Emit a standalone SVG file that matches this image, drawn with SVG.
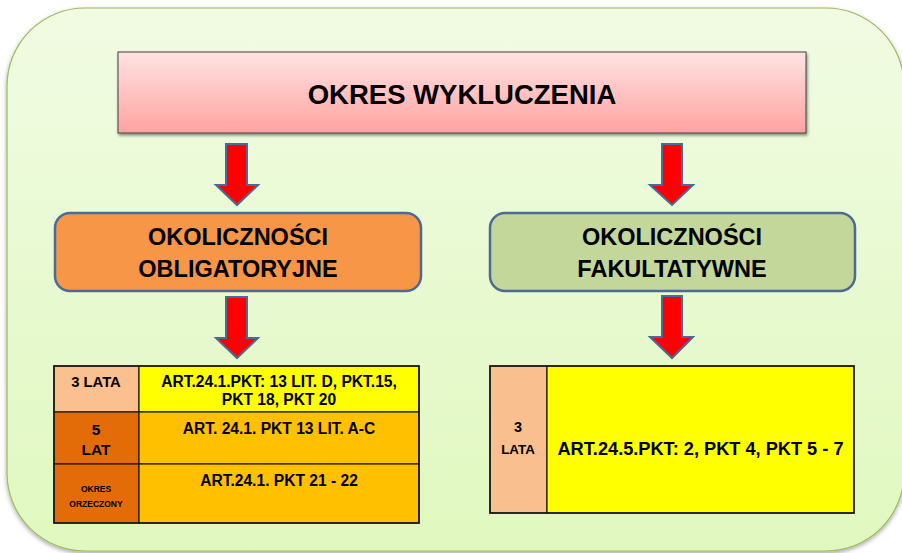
<svg xmlns="http://www.w3.org/2000/svg" width="902" height="553" viewBox="0 0 902 553">
<defs>
<linearGradient id="bg" x1="0" y1="0" x2="0" y2="1">
<stop offset="0" stop-color="#f1fbe3"/>
<stop offset="1" stop-color="#e0f8bf"/>
</linearGradient>
<linearGradient id="pink" x1="0" y1="0" x2="0" y2="1">
<stop offset="0" stop-color="#ffe3e3"/>
<stop offset="1" stop-color="#ffa3a1"/>
</linearGradient>
<filter id="sh" x="-5%" y="-10%" width="110%" height="130%">
<feDropShadow dx="1" dy="2" stdDeviation="1.5" flood-color="#000" flood-opacity="0.45"/>
</filter>
<filter id="bgsh" x="-5%" y="-5%" width="110%" height="110%">
<feDropShadow dx="0" dy="2" stdDeviation="2" flood-color="#000" flood-opacity="0.35"/>
</filter>
</defs>
<style>
text{font-family:"Liberation Sans",Arial,sans-serif;font-weight:bold;fill:#000;text-anchor:middle}
.arrow{fill:#ff0000;stroke:#4a6b96;stroke-width:2;stroke-linejoin:miter}
.node{stroke:#4a6b96;stroke-width:2.5}
.cell{stroke:#1a1a1a;stroke-width:1.2}
</style>
<rect x="7" y="8" width="897" height="543" rx="78" ry="78" fill="url(#bg)" stroke="#9bbb59" stroke-width="1.2" filter="url(#bgsh)"/>

<g id="top">
<rect x="118" y="52" width="688" height="81" fill="url(#pink)" stroke="#404040" stroke-width="1" filter="url(#sh)"/>
<text x="462" y="104" font-size="27.5">OKRES WYKLUCZENIA</text>
</g>

<g id="connectors">
<polygon class="arrow" points="226,144 247,144 247,185 258,185 237,205 216,185 226,185"/>
<polygon class="arrow" points="226,297 247,297 247,338 258,338 237,358 216,338 226,338"/>
<polygon class="arrow" points="662,144 682,144 682,185 693,185 672,205 650,185 662,185"/>
<polygon class="arrow" points="662,296 682,296 682,337 693,337 672,358 650,337 662,337"/>
</g>

<g id="obligatoryjne">
<rect class="node" x="55" y="213" width="366" height="78" rx="15" fill="#f79646"/>
<text x="238" y="245" font-size="23.5">OKOLICZNOŚCI</text>
<text x="238" y="277" font-size="23.5">OBLIGATORYJNE</text>
</g>

<g id="fakultatywne">
<rect class="node" x="490" y="213" width="365" height="78" rx="15" fill="#c4d79b"/>
<text x="672" y="245" font-size="23.5">OKOLICZNOŚCI</text>
<text x="672" y="277" font-size="23.5">FAKULTATYWNE</text>
</g>

<g id="table-left">
<rect class="cell" x="54" y="366" width="85" height="46" fill="#fac090"/>
<rect class="cell" x="139" y="366" width="280" height="46" fill="#ffff00"/>
<rect class="cell" x="54" y="412" width="85" height="52" fill="#e36c09"/>
<rect class="cell" x="139" y="412" width="280" height="52" fill="#ffc000"/>
<rect class="cell" x="54" y="464" width="85" height="59" fill="#e36c09"/>
<rect class="cell" x="139" y="464" width="280" height="59" fill="#ffc000"/>
<rect x="54" y="366" width="365" height="157" fill="none" stroke="#1a1a1a" stroke-width="1.6"/>
<text x="96" y="387" font-size="14.8">3 LATA</text>
<text x="279" y="387" font-size="15.6">ART.24.1.PKT: 13 LIT. D, PKT.15,</text>
<text x="279" y="405" font-size="15.6">PKT 18, PKT 20</text>
<text x="96" y="435" font-size="15.5">5</text>
<text x="96" y="455" font-size="15.5">LAT</text>
<text x="279" y="434" font-size="15.6">ART. 24.1. PKT 13 LIT. A-C</text>
<text x="96" y="492" font-size="8.5">OKRES</text>
<text x="96" y="507" font-size="8.5">ORZECZONY</text>
<text x="279" y="486" font-size="15.6">ART.24.1. PKT 21 - 22</text>
</g>

<g id="table-right">
<rect class="cell" x="490" y="366" width="57" height="147" fill="#f9bf8f"/>
<rect class="cell" x="547" y="366" width="307" height="147" fill="#ffff00"/>
<rect x="490" y="366" width="364" height="147" fill="none" stroke="#1a1a1a" stroke-width="1.6"/>
<text x="518" y="432" font-size="14.5">3</text>
<text x="518" y="454" font-size="13.4">LATA</text>
<text x="700.5" y="455" font-size="18.2">ART.24.5.PKT: 2, PKT 4, PKT 5 - 7</text>
</g>
</svg>
